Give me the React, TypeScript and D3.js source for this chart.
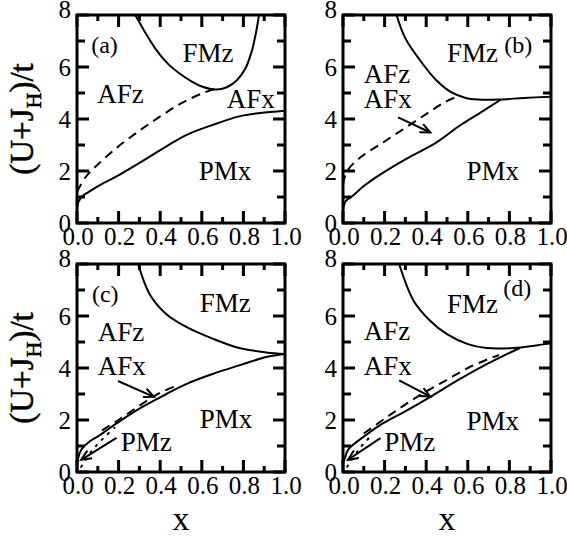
import React from "react";
import * as d3 from "d3";

type P = [number, number];

// ---- data ----
const xTicks = d3.range(0, 1.0001, 0.1).map((v) => +v.toFixed(1));
const yTicks = [0, 1, 2, 3, 4, 5, 6, 7, 8];
const xTickLabels = ["0.0", "0.2", "0.4", "0.6", "0.8", "1.0"];
const yTickLabels = ["0", "2", "4", "6", "8"];

// panel (a)
const aFM: P[] = [[0.28, 8], [0.33, 7.3], [0.38, 6.67], [0.44, 6.1], [0.49, 5.77], [0.55, 5.45], [0.6, 5.25], [0.67, 5.13], [0.72, 5.22], [0.77, 5.5], [0.81, 5.95], [0.84, 6.6], [0.86, 7.3], [0.875, 8]];
const aDashed: P[] = [[0, 1.2], [0.04, 1.75], [0.1, 2.25], [0.2, 2.95], [0.3, 3.55], [0.4, 4.1], [0.5, 4.6], [0.6, 4.98], [0.66, 5.15]];
const aSolid: P[] = [[0, 0.5], [0.008, 0.83], [0.026, 1.03], [0.053, 1.18], [0.11, 1.46], [0.19, 1.79], [0.3, 2.31], [0.43, 2.95], [0.53, 3.4], [0.655, 3.78], [0.78, 4.1], [0.88, 4.23], [1.0, 4.32]];

// panel (b)
const bFM: P[] = [[0.257, 8], [0.3, 7.1], [0.37, 6.26], [0.45, 5.48], [0.52, 5.03], [0.59, 4.81], [0.65, 4.75], [0.75, 4.75], [0.87, 4.81], [1.0, 4.86]];
const bDashed: P[] = [[0, 1.5], [0.02, 2.0], [0.083, 2.52], [0.18, 3.03], [0.29, 3.61], [0.4, 4.19], [0.49, 4.65], [0.56, 4.9]];
const bSolid: P[] = [[0, 0.5], [0.013, 0.84], [0.044, 1.03], [0.1, 1.42], [0.18, 1.87], [0.3, 2.45], [0.45, 3.1], [0.56, 3.74], [0.65, 4.19], [0.76, 4.75]];

// panel (c)
const cFM: P[] = [[0.294, 8], [0.35, 6.83], [0.43, 6.07], [0.53, 5.56], [0.655, 5.12], [0.78, 4.77], [0.91, 4.6], [1.0, 4.54]];
const cSolid: P[] = [[0, 0.35], [0.02, 0.85], [0.06, 1.17], [0.11, 1.42], [0.19, 1.87], [0.3, 2.44], [0.43, 3.0], [0.53, 3.4], [0.655, 3.78], [0.78, 4.1], [0.91, 4.42], [1.0, 4.54]];
const cDashed: P[] = [[0.12, 1.6], [0.2, 2.0], [0.3, 2.55], [0.4, 3.05], [0.48, 3.32]];
const cDotted: P[] = [[0.02, 0.2], [0.04, 0.45], [0.07, 0.8], [0.1, 1.08], [0.14, 1.4], [0.18, 1.7]];

// panel (d)
const dFM: P[] = [[0.27, 8], [0.34, 6.58], [0.42, 5.81], [0.5, 5.3], [0.6, 4.92], [0.69, 4.77], [0.82, 4.77], [0.92, 4.86], [1.0, 4.95]];
const dSolid: P[] = [[0, 0.35], [0.008, 0.5], [0.024, 0.85], [0.056, 1.1], [0.1, 1.36], [0.18, 1.81], [0.31, 2.38], [0.42, 2.89], [0.55, 3.52], [0.68, 4.1], [0.79, 4.54], [0.85, 4.77]];
const dDashed: P[] = [[0.1, 1.48], [0.2, 2.05], [0.3, 2.6], [0.4, 3.1], [0.5, 3.55], [0.6, 4.0], [0.7, 4.35], [0.75, 4.5]];
const dDotted: P[] = [[0.02, 0.2], [0.04, 0.45], [0.07, 0.8], [0.1, 1.1], [0.14, 1.42]];

// arrows [from, to]
const bArrows: P[][] = [[[0.265, 4.06], [0.42, 3.48]]];
const cArrows: P[][] = [[[0.197, 3.5], [0.37, 2.89]], [[0.19, 1.31], [0.02, 0.47]]];
const dArrows: P[][] = [[[0.27, 3.52], [0.42, 2.9]], [[0.18, 1.3], [0.024, 0.47]]];

// region labels [text, x, y]
type L = [string, number, number];
const aLabels: L[] = [["FMz", 0.507, 6.19], ["AFz", 0.097, 4.62], ["AFx", 0.72, 4.42], ["PMx", 0.585, 1.65]];
const bLabels: L[] = [["FMz", 0.5, 6.19], ["AFz", 0.1, 5.38], ["AFx", 0.1, 4.42], ["PMx", 0.594, 1.65]];
const cLabels: L[] = [["FMz", 0.59, 6.15], ["AFz", 0.1, 5.04], ["AFx", 0.1, 3.73], ["PMx", 0.59, 1.69], ["PMz", 0.21, 0.81]];
const dLabels: L[] = [["FMz", 0.5, 6.12], ["AFz", 0.1, 5.08], ["AFx", 0.1, 3.73], ["PMx", 0.594, 1.62], ["PMz", 0.198, 0.81]];
const panelTags: L[] = [["(a)", 0.068, 6.54], ["(b)", 0.775, 6.54], ["(c)", 0.072, 6.54], ["(d)", 0.77, 6.77]];

const FONT = "'Liberation Serif', 'Times New Roman', Times, serif";

interface PanelDef {
  left: number;
  top: number;
  solid: P[][];
  dashed: P[];
  dotted: P[] | null;
  arrows: P[][];
  labels: L[];
  tag: L;
  showYTitle: boolean;
  showXTitle: boolean;
  id: string;
}

const W = 208;
const H = 208;

function Panel({ p }: { p: PanelDef }) {
  const x = d3.scaleLinear().domain([0, 1]).range([p.left, p.left + W]);
  const y = d3.scaleLinear().domain([0, 8]).range([p.top + H, p.top]);
  const line = d3
    .line<P>()
    .x((d) => x(d[0]))
    .y((d) => y(d[1]))
    .curve(d3.curveCatmullRom.alpha(0.5));
  const clipId = `clip-${p.id}`;
  const bottom = p.top + H;
  const right = p.left + W;
  return (
    <g>
      <defs>
        <clipPath id={clipId}>
          <rect x={p.left} y={p.top} width={W} height={H} />
        </clipPath>
      </defs>
      <g clipPath={`url(#${clipId})`} fill="none" stroke="#000">
        {p.solid.map((s, i) => (
          <path key={i} d={line(s) || ""} strokeWidth={2} />
        ))}
        <path d={line(p.dashed) || ""} strokeWidth={2} strokeDasharray="9,6" />
        {p.dotted && (
          <path d={line(p.dotted) || ""} strokeWidth={2} strokeDasharray="1.5,7" strokeLinecap="round" />
        )}
        {p.arrows.map((a, i) => {
          const x0 = x(a[0][0]), y0 = y(a[0][1]);
          const x1 = x(a[1][0]), y1 = y(a[1][1]);
          const ang = Math.atan2(y1 - y0, x1 - x0);
          const hl = 11, ha = 0.42;
          const h1: [number, number] = [x1 - hl * Math.cos(ang - ha), y1 - hl * Math.sin(ang - ha)];
          const h2: [number, number] = [x1 - hl * Math.cos(ang + ha), y1 - hl * Math.sin(ang + ha)];
          return (
            <g key={i}>
              <line x1={x0} y1={y0} x2={x1} y2={y1} strokeWidth={2} />
              <path d={`M${h1[0]},${h1[1]}L${x1},${y1}L${h2[0]},${h2[1]}`} strokeWidth={2} />
            </g>
          );
        })}
      </g>
      {/* ticks */}
      <g stroke="#000" strokeWidth={3}>
        {xTicks.map((t, i) => {
          const len = i % 2 === 0 ? 12 : 6;
          return (
            <g key={"xt" + i}>
              <line x1={x(t)} x2={x(t)} y1={bottom} y2={bottom - len} />
              <line x1={x(t)} x2={x(t)} y1={p.top} y2={p.top + len} />
            </g>
          );
        })}
        {yTicks.map((t, i) => {
          const len = t % 2 === 0 ? 12 : 8;
          return (
            <g key={"yt" + i}>
              <line y1={y(t)} y2={y(t)} x1={p.left} x2={p.left + len} />
              <line y1={y(t)} y2={y(t)} x1={right} x2={right - len} />
            </g>
          );
        })}
      </g>
      <rect x={p.left} y={p.top} width={W} height={H} fill="none" stroke="#000" strokeWidth={3} />
      {/* tick labels */}
      <g style={{ fontFamily: FONT }} fontSize={25} fill="#000">
        {xTickLabels.map((s) => (
          <text key={"xl" + s} x={x(+s) + 1} y={bottom + 22} textAnchor="middle">
            {s}
          </text>
        ))}
        {yTickLabels.map((s) => (
          <text key={"yl" + s} x={p.left - 6} y={y(+s) + (s === "8" ? 3 : 9)} textAnchor="end">
            {s}
          </text>
        ))}
      </g>
      {/* region labels */}
      <g style={{ fontFamily: FONT }} fontSize={27} fill="#000">
        {p.labels.map((l, i) => (
          <text key={i} x={x(l[1])} y={y(l[2])}>
            {l[0]}
          </text>
        ))}
      </g>
      <text x={x(p.tag[1])} y={y(p.tag[2])} style={{ fontFamily: FONT }} fontSize={24} fill="#000">
        {p.tag[0]}
      </text>
      {p.showYTitle && (
        <text
          transform={`translate(${p.left - 44},${p.top + H / 2}) rotate(-90)`}
          textAnchor="middle"
          style={{ fontFamily: FONT }}
          fontSize={33}
          fill="#000"
          stroke="#000"
          strokeWidth={0.5}
        >
          (U+J<tspan fontSize={22} dy={8}>H</tspan>
          <tspan dy={-8}>)/t</tspan>
        </text>
      )}
      {p.showXTitle && (
        <text x={p.left + W / 2} y={bottom + 58} textAnchor="middle" style={{ fontFamily: FONT }} fontSize={34} fill="#000">
          x
        </text>
      )}
    </g>
  );
}

export default function App() {
  const panels: PanelDef[] = [
    { id: "a", left: 77, top: 15, solid: [aFM, aSolid], dashed: aDashed, dotted: null, arrows: [], labels: aLabels, tag: panelTags[0], showYTitle: true, showXTitle: false },
    { id: "b", left: 343, top: 15, solid: [bFM, bSolid], dashed: bDashed, dotted: null, arrows: bArrows, labels: bLabels, tag: panelTags[1], showYTitle: false, showXTitle: false },
    { id: "c", left: 77, top: 264, solid: [cFM, cSolid], dashed: cDashed, dotted: cDotted, arrows: cArrows, labels: cLabels, tag: panelTags[2], showYTitle: true, showXTitle: true },
    { id: "d", left: 343, top: 264, solid: [dFM, dSolid], dashed: dDashed, dotted: dDotted, arrows: dArrows, labels: dLabels, tag: panelTags[3], showYTitle: false, showXTitle: true },
  ];
  return (
    <svg
      width={567}
      height={536}
      style={{ position: "absolute", left: 0, top: 0, background: "#fff" }}
    >
      {panels.map((p) => (
        <Panel key={p.id} p={p} />
      ))}
    </svg>
  );
}
